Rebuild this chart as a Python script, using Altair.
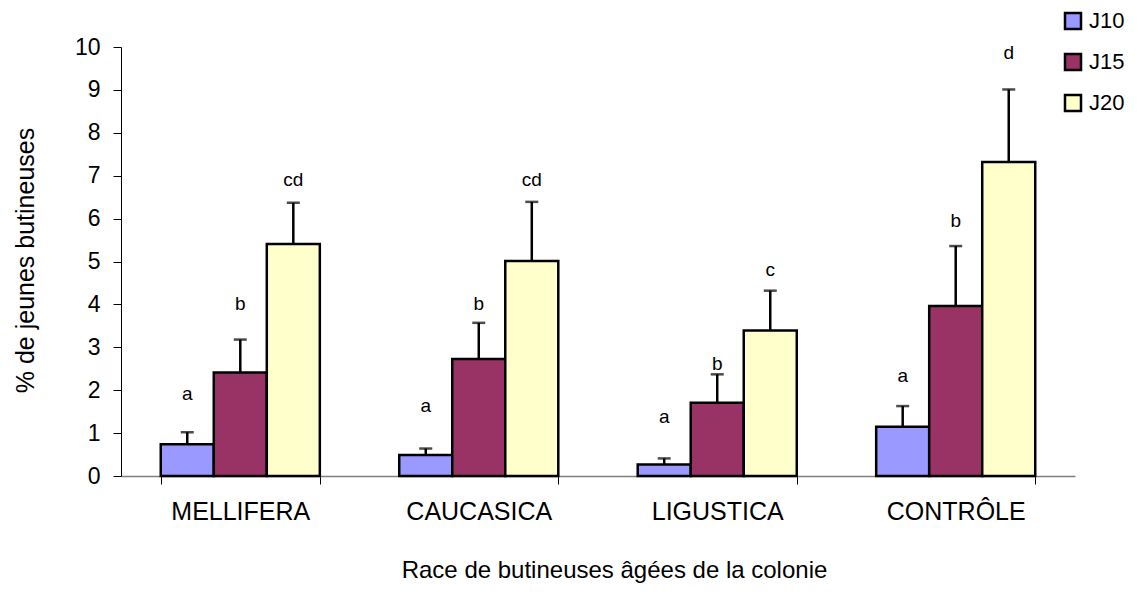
import altair as alt
import pandas as pd

races = ["MELLIFERA", "CAUCASICA", "LIGUSTICA", "CONTRÔLE"]
jours = ["J10", "J15", "J20"]
j10 = [0.74, 0.49, 0.27, 1.15]
j15 = [2.41, 2.73, 1.71, 3.96]
j20 = [5.41, 5.01, 3.39, 7.32]
err10 = [1.02, 0.64, 0.41, 1.63]
err15 = [3.18, 3.57, 2.37, 5.36]
err20 = [6.37, 6.39, 4.32, 9.01]
lettres10 = ["a", "a", "a", "a"]
lettres15 = ["b", "b", "b", "b"]
lettres20 = ["cd", "cd", "c", "d"]
pos10 = [1.90, 1.63, 1.38, 2.33]
pos15 = [4.00, 4.00, 2.60, 5.94]
pos20 = [6.91, 6.91, 4.81, 9.86]
colors = ["#9999FF", "#993366", "#FFFFCC"]

rows = []
for jour, vals, errs, lets, poss in [
    ("J10", j10, err10, lettres10, pos10),
    ("J15", j15, err15, lettres15, pos15),
    ("J20", j20, err20, lettres20, pos20),
]:
    for r, v, e, l, p in zip(races, vals, errs, lets, poss):
        rows.append({"race": r, "jour": jour, "value": v, "err": e, "lettre": l, "pos": p})
df = pd.DataFrame(rows)

FONT = "Liberation Sans"

x_enc = alt.X(
    "race:N", sort=races,
    scale=alt.Scale(paddingInner=0.333, paddingOuter=0.1667),
    axis=alt.Axis(
        title="Race de butineuses âgées de la colonie",
        labelAngle=0, tickBand="extent", labelFontSize=25, labelFont=FONT,
        labelColor="black", labelPadding=15, tickSize=8, tickColor="black",
        domainColor="#808080", domainWidth=1.5,
        titleFontSize=24, titleFont=FONT, titleFontWeight="normal", titleColor="black",
        titleX=493, titleY=101, titleAlign="center", titleBaseline="alphabetic",
    ),
)
xo_enc = alt.XOffset("jour:N", sort=jours, scale=alt.Scale(paddingInner=0, paddingOuter=0))

y_axis = alt.Axis(
    title="% de jeunes butineuses", values=list(range(0, 11)), grid=False,
    labelFontSize=23, labelFont=FONT, labelColor="black", labelPadding=13,
    tickSize=8, tickColor="black", domainColor="black",
    titleFontSize=25, titleFont=FONT, titleFontWeight="normal", titleColor="black",
    titleX=-96, titleY=213, titleAngle=-90, titleAlign="center", titleBaseline="middle",
)
y_scale = alt.Scale(domain=[0, 10], nice=False)

base = alt.Chart(df)

bars = base.mark_bar(stroke="black", strokeWidth=2.5).encode(
    x=x_enc, xOffset=xo_enc,
    y=alt.Y("value:Q", scale=y_scale, axis=y_axis),
    color=alt.Color(
        "jour:N", sort=jours,
        scale=alt.Scale(domain=jours, range=colors),
        legend=alt.Legend(
            orient="none", legendX=941, legendY=-37, title=None,
            symbolType="square", symbolSize=256, symbolStrokeColor="black",
            symbolStrokeWidth=2.5, labelFontSize=22, labelFont=FONT, labelColor="black",
            rowPadding=15, labelOffset=5, padding=0,
        ),
    ),
)

rules = base.mark_rule(color="black", strokeWidth=2.5).encode(
    x=x_enc, xOffset=xo_enc,
    y=alt.Y("value:Q", scale=y_scale, axis=y_axis),
    y2="err:Q",
)

caps = base.mark_tick(color="black", thickness=2.5, size=13, orient="horizontal").encode(
    x=x_enc, xOffset=xo_enc,
    y=alt.Y("err:Q", scale=y_scale, axis=y_axis),
)

letters = base.mark_text(fontSize=19, font=FONT, color="black", baseline="middle").encode(
    x=x_enc, xOffset=xo_enc,
    y=alt.Y("pos:Q", scale=y_scale, axis=y_axis),
    text="lettre:N",
)

chart = alt.layer(bars, rules, caps, letters).properties(
    width=954, height=429,
    padding={"left": 113, "top": 39, "right": 55, "bottom": 108},
    autosize=alt.AutoSizeParams(type="none"),
    background="white",
).configure_view(stroke=None)

chart.save("out.html", embed_options={"renderer": "svg", "actions": False})
